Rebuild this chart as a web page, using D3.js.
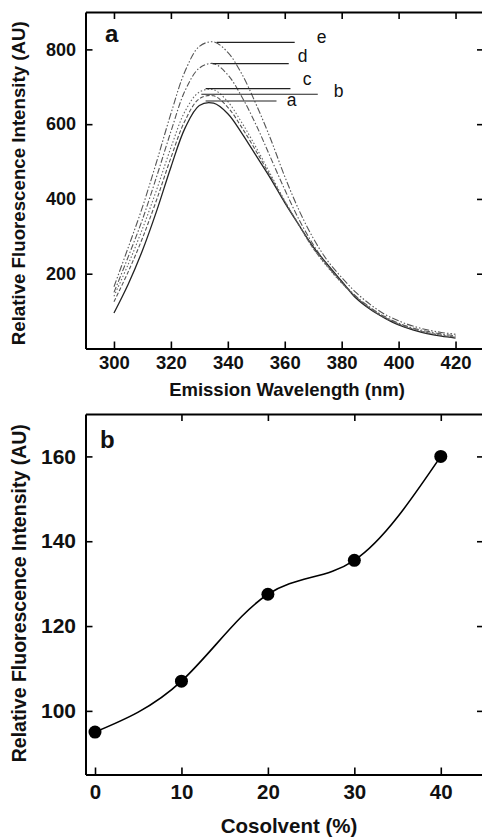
<!DOCTYPE html>
<html>
<head>
<meta charset="utf-8">
<script src="https://cdn.jsdelivr.net/npm/d3@7"></script>
<style>
  html, body { margin: 0; padding: 0; background: #fff; }
  svg { display: block; }
  text { font-family: "Liberation Sans", Arial, sans-serif; fill: #111; }
</style>
</head>
<body>
<svg id="chart" width="482" height="839"></svg>
<script>
// ---------- Panel a: emission spectra ----------
const wavelengths = [300,305,310,315,320,325,330,335,340,345,350,355,360,365,370,375,380,385,390,395,400,405,410,415,420];
const seriesA = [95,172,262,368,485,590,650,656,628,575,515,455,390,330,272,225,180,135,105,82,63,50,40,33,28];
const seriesB = [125,205,295,398,510,610,668,676,645,590,527,460,393,330,268,220,176,138,107,83,65,52,42,35,30];
const seriesC = [140,225,320,425,537,635,686,692,660,603,537,466,395,330,268,218,175,138,108,84,66,53,43,36,31];
const seriesD = [150,245,345,460,580,690,750,762,732,672,597,511,425,345,278,222,178,140,110,86,68,55,46,39,34];
const seriesE = [165,270,378,500,628,742,808,820,792,733,652,561,460,370,295,235,190,150,118,92,74,60,50,43,38];
const seriesNames = ["a","b","c","d","e"];
const spectraXTicks = [300,320,340,360,380,400,420];
const spectraYTicks = [200,400,600,800];
// label leader lines: start wavelength, end wavelength, level, label wavelength, label level
const leaderStart = [332.2,330.7,332.2,334.7,336.1];
const leaderEnd   = [357.1,371.6,362.0,361.4,363.5];
const leaderLevel = [662,680,695,762,819];
const labelWl     = [360.7,377.2,366.3,364.6,371.2];
const labelLevel  = [649,673,705,766,817];

// ---------- Panel b: cosolvent ----------
const cosolvent = [0,10,20,30,40];
const intensity = [95,107,127.5,135.5,160];
const cosXTicks = [0,10,20,30,40];
const cosXTopTicks = [10,20,30,40];
const cosYTicks = [100,120,140,160];

const svg = d3.select("#chart");

// ===== Panel a =====
const xA = d3.scaleLinear().domain([290,430]).range([85.5,484]);
const yA = d3.scaleLinear().domain([0,900]).range([348.5,12]);
const gA = svg.append("g");

const dashes = [null, "4,2", "1.5,2", "6,2,1.5,2", "7,2,1.5,2,1.5,2"];
const strokes = ["#222","#555","#666","#555","#555"];
const allSeries = [seriesA, seriesB, seriesC, seriesD, seriesE];
const lineA = d3.line().x(d => xA(d[0])).y(d => yA(d[1])).curve(d3.curveCatmullRom.alpha(0.5));
allSeries.forEach((s, i) => {
  gA.append("path")
    .datum(wavelengths.map((w, j) => [w, s[j]]))
    .attr("fill", "none")
    .attr("stroke", strokes[i])
    .attr("stroke-width", i === 0 ? 1.3 : 1.1)
    .attr("stroke-dasharray", dashes[i])
    .attr("d", lineA);
});
seriesNames.forEach((n, i) => {
  gA.append("line")
    .attr("x1", xA(leaderStart[i])).attr("x2", xA(leaderEnd[i]))
    .attr("y1", yA(leaderLevel[i])).attr("y2", yA(leaderLevel[i]))
    .attr("stroke", "#222").attr("stroke-width", 1.2);
  gA.append("text")
    .attr("x", xA(labelWl[i])).attr("y", yA(labelLevel[i]))
    .attr("font-size", 17.5).text(n);
});

function styleAxis(g) {
  g.select(".domain").attr("stroke", "#000").attr("stroke-width", 2);
  g.selectAll(".tick line").attr("stroke", "#000").attr("stroke-width", 1.6);
  g.selectAll(".tick text").attr("font-weight", "bold").attr("fill", "#111")
    .attr("font-family", "'Liberation Sans', Arial, sans-serif");
}

gA.append("g").attr("transform", `translate(0,${yA(0)})`)
  .call(d3.axisBottom(xA).tickValues(spectraXTicks).tickSizeInner(-7).tickSizeOuter(0).tickPadding(7))
  .call(styleAxis).selectAll(".tick text").attr("font-size", 18.5);
gA.append("g").attr("transform", `translate(0,${yA(900)})`)
  .call(d3.axisTop(xA).tickValues(spectraXTicks).tickSizeInner(-7).tickSizeOuter(0).tickFormat(""))
  .call(styleAxis);
gA.append("g").attr("transform", `translate(${xA(290)},0)`)
  .call(d3.axisLeft(yA).tickValues(spectraYTicks).tickSizeInner(-7).tickSizeOuter(0).tickPadding(9.5))
  .call(styleAxis).selectAll(".tick text").attr("font-size", 18);
gA.append("g").attr("transform", `translate(${xA(430)},0)`)
  .call(d3.axisRight(yA).tickValues(spectraYTicks).tickSizeInner(-7).tickSizeOuter(0).tickFormat(""))
  .call(styleAxis);

gA.append("text").attr("x", 105).attr("y", 42)
  .attr("font-family", "'Liberation Serif', 'Times New Roman', serif")
  .attr("font-weight", "bold").attr("font-size", 24).text("a");
gA.append("text").attr("x", 287).attr("y", 396).attr("text-anchor", "middle")
  .attr("font-weight", "bold").attr("font-size", 18.5).text("Emission Wavelength (nm)");
gA.append("text").attr("transform", `translate(25,${(yA(0)+yA(900))/2 + 3}) rotate(-90)`)
  .attr("text-anchor", "middle").attr("font-weight", "bold").attr("font-size", 18.7)
  .text("Relative Fluorescence Intensity (AU)");

// ===== Panel b =====
const xB = d3.scaleLinear().domain([-1.1,45]).range([85.5,484]);
const yB = d3.scaleLinear().domain([85,170]).range([774.5,414]);
const gB = svg.append("g");

gB.append("g").attr("transform", `translate(0,${yB(85)})`)
  .call(d3.axisBottom(xB).tickValues(cosXTicks).tickSizeInner(-7).tickSizeOuter(0).tickPadding(9.5))
  .call(styleAxis).selectAll(".tick text").attr("font-size", 20.5);
gB.append("g").attr("transform", `translate(0,${yB(170)})`)
  .call(d3.axisTop(xB).tickValues(cosXTopTicks).tickSizeInner(-7).tickSizeOuter(0).tickFormat(""))
  .call(styleAxis);
gB.append("g").attr("transform", `translate(${xB(-1.1)},0)`)
  .call(d3.axisLeft(yB).tickValues(cosYTicks).tickSizeInner(-7).tickSizeOuter(0).tickPadding(9.5))
  .call(styleAxis).selectAll(".tick text").attr("font-size", 21);
gB.append("g").attr("transform", `translate(${xB(45)},0)`)
  .call(d3.axisRight(yB).tickValues(cosYTicks).tickSizeInner(-7).tickSizeOuter(0).tickFormat(""))
  .call(styleAxis);

const lineB = d3.line().x(d => xB(d[0])).y(d => yB(d[1])).curve(d3.curveNatural);
const ptsB = cosolvent.map((c, i) => [c, intensity[i]]);
gB.append("path").datum(ptsB).attr("fill", "none").attr("stroke", "#000")
  .attr("stroke-width", 1.6).attr("d", lineB);
gB.selectAll("circle.pt").data(ptsB).enter().append("circle")
  .attr("cx", d => xB(d[0])).attr("cy", d => yB(d[1])).attr("r", 6.5).attr("fill", "#000");

gB.append("text").attr("x", 100).attr("y", 448)
  .attr("font-family", "'Liberation Serif', 'Times New Roman', serif")
  .attr("font-weight", "bold").attr("font-size", 24).text("b");
gB.append("text").attr("x", 289).attr("y", 833).attr("text-anchor", "middle")
  .attr("font-weight", "bold").attr("font-size", 20.5).text("Cosolvent (%)");
gB.append("text").attr("transform", `translate(26,${(yB(85)+yB(170))/2 - 1}) rotate(-90)`)
  .attr("text-anchor", "middle").attr("font-weight", "bold").attr("font-size", 19.5)
  .text("Relative Fluorescence Intensity (AU)");
</script>
</body>
</html>
